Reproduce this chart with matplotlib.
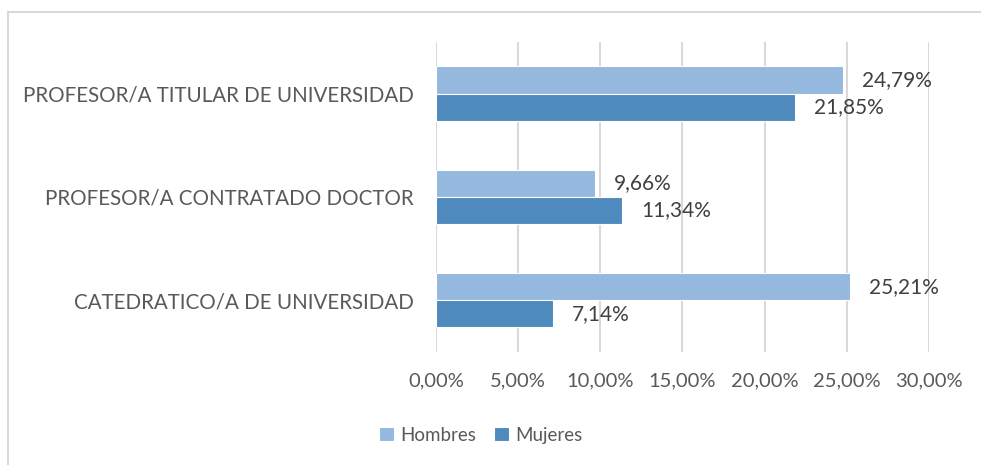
import matplotlib.pyplot as plt
import numpy as np
from matplotlib.lines import Line2D

categorias = ['CATEDRATICO/A DE UNIVERSIDAD', 'PROFESOR/A CONTRATADO DOCTOR', 'PROFESOR/A TITULAR DE UNIVERSIDAD']
hombres = [25.21, 9.66, 24.79]
mujeres = [7.14, 11.34, 21.85]
ticks = [0, 5, 10, 15, 20, 25, 30]

plt.rcParams['font.family'] = ['Lato', 'DejaVu Sans']

color_h = '#95B8DF'
color_m = '#4F8ABE'
gris = '#595959'

fig = plt.figure(figsize=(9.81, 4.65), dpi=100)
ax = fig.add_axes([0.4444, 0.243, 0.5026, 0.667])

y = np.arange(len(categorias))
alto = 0.262

ax.barh(y + alto / 2, hombres, height=alto, color=color_h, edgecolor='white', linewidth=0.8, label='Hombres', zorder=3)
ax.barh(y - alto / 2, mujeres, height=alto, color=color_m, edgecolor='white', linewidth=0.8, label='Mujeres', zorder=3)

# etiquetas de valores
for i in range(len(categorias)):
    ax.text(hombres[i] + 1.15, y[i] + alto / 2, f'{hombres[i]:.2f}%'.replace('.', ','),
            va='center', ha='left', fontsize=15, color='#404040')
    ax.text(mujeres[i] + 1.15, y[i] - alto / 2, f'{mujeres[i]:.2f}%'.replace('.', ','),
            va='center', ha='left', fontsize=15, color='#404040')

ax.set_xlim(0, 30)
ax.set_ylim(-0.5, 2.5)
ax.set_xticks(ticks)
ax.set_xticklabels([f'{t:.2f}%'.replace('.', ',') for t in ticks], fontsize=14.5, color=gris)
ax.set_yticks(y)
ax.set_yticklabels(categorias, fontsize=14.8, color=gris)
ax.tick_params(axis='both', length=0)
ax.tick_params(axis='x', pad=15)
ax.tick_params(axis='y', pad=16)

ax.grid(axis='x', color='#D9D9D9', linewidth=1.5, zorder=0)
for s in ax.spines.values():
    s.set_visible(False)

fig.legend(loc='center', bbox_to_anchor=(0.49, 0.064), ncol=2, frameon=False, fontsize=13.5,
           handlelength=0.8, handleheight=0.8, handletextpad=0.3, columnspacing=1.0, labelcolor=gris)

# borde del grafico
fig.add_artist(Line2D([8 / 981, 8 / 981], [0, 1 - 12 / 465], transform=fig.transFigure, color='#D9D9D9', linewidth=1.5))
fig.add_artist(Line2D([8 / 981, 1], [1 - 12 / 465, 1 - 12 / 465], transform=fig.transFigure, color='#D9D9D9', linewidth=1.5))

plt.savefig('out.png', dpi=100)
